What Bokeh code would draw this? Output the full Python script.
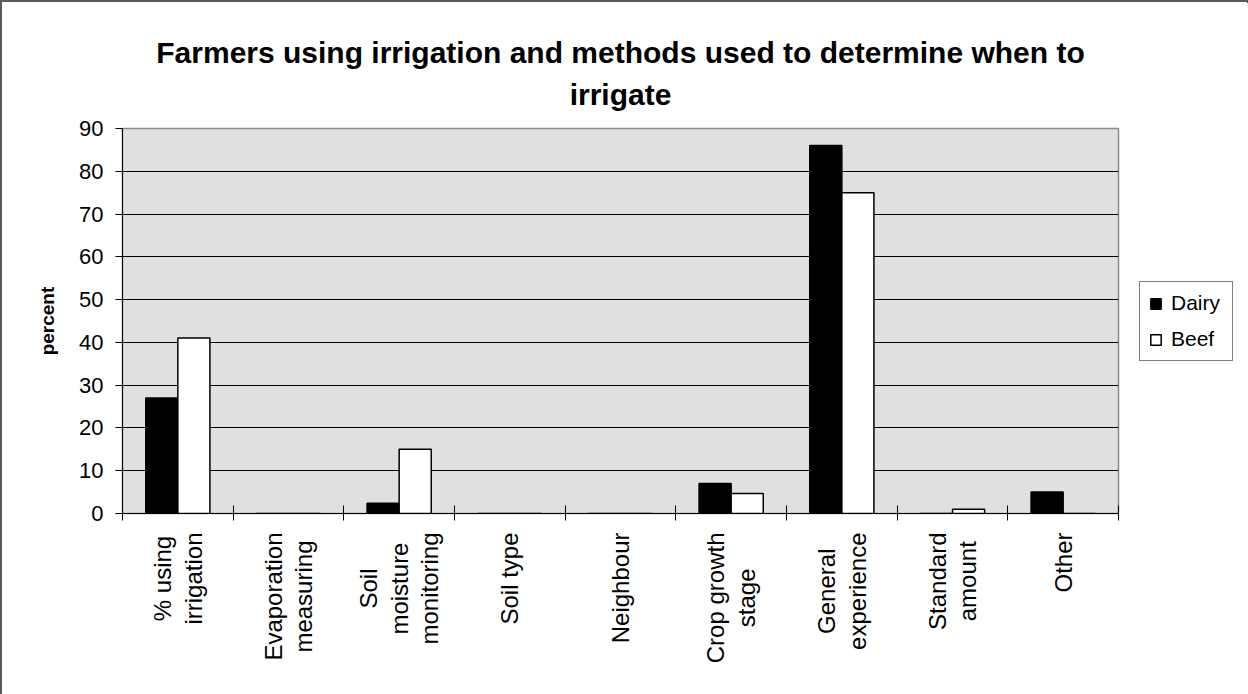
import math

from bokeh.plotting import figure
from bokeh.layouts import row, column
from bokeh.models import FixedTicker, Legend, LegendItem, ColumnDataSource, Label
from bokeh.embed import file_html
from bokeh.resources import INLINE

# Survey results: share of farmers (percent)
categories = [
    "% using\nirrigation",
    "Evaporation\nmeasuring",
    "Soil\nmoisture\nmonitoring",
    "Soil type",
    "Neighbour",
    "Crop growth\nstage",
    "General\nexperience",
    "Standard\namount",
    "Other",
]
dairy = [27, 0, 2.4, 0, 0, 7, 86, 0, 5]
beef = [41, 0, 15, 0, 0, 4.7, 75, 1, 0]
y_ticks = [0, 10, 20, 30, 40, 50, 60, 70, 80, 90]
title_lines = ["Farmers using irrigation and methods used to determine when to", "irrigate"]

FONT = "Liberation Sans"
BAR_W = 0.29
DAIRY_STYLE = dict(fill_color="black", line_color="black", line_width=1.5)
BEEF_STYLE = dict(fill_color="white", line_color="black", line_width=1.5)

centers = [i + 0.5 for i in range(len(categories))]
src = ColumnDataSource(dict(
    dairy_x=[c - BAR_W / 2 for c in centers],
    beef_x=[c + BAR_W / 2 for c in centers],
    dairy=dairy,
    beef=beef,
))


def bare(fig):
    """Strip axes chrome from a helper strip."""
    fig.outline_line_color = None
    fig.xgrid.visible = False
    fig.ygrid.visible = False
    return fig


# ---- title strip ------------------------------------------------------------
p_title = bare(figure(
    frame_width=996, frame_height=110,
    x_range=(0, 1), y_range=(0, 110),
    output_backend="svg", toolbar_location=None,
    x_axis_location=None, y_axis_location=None,
    min_border_left=120, min_border_right=2, min_border_top=0, min_border_bottom=0,
))
for text, mid in zip(title_lines, (60, 18)):
    p_title.add_layout(Label(
        x=0.5, y=mid, text=text, text_align="center", text_baseline="middle",
        text_font=FONT, text_font_style="bold", text_font_size="30px", text_color="black",
    ))

# ---- main chart -------------------------------------------------------------
p = figure(
    frame_width=996, frame_height=385,
    x_range=(0, len(categories)), y_range=(0, 90),
    output_backend="svg", toolbar_location=None,
    min_border_left=120, min_border_right=2,
    min_border_top=16, min_border_bottom=17,
)
p.background_fill_color = "#e0e0e0"
p.border_fill_color = "white"
p.outline_line_color = "#8a8a8a"
p.outline_line_width = 1.5

p.vbar(x="dairy_x", top="dairy", width=BAR_W, source=src, **DAIRY_STYLE)
p.vbar(x="beef_x", top="beef", width=BAR_W, source=src, **BEEF_STYLE)

# Horizontal gridlines (top edge is the frame outline)
p.xgrid.visible = False
p.ygrid.ticker = FixedTicker(ticks=y_ticks[1:-1])
p.ygrid.grid_line_color = "black"
p.ygrid.grid_line_width = 1

# Y axis
p.yaxis.ticker = FixedTicker(ticks=y_ticks, minor_ticks=[])
p.yaxis.axis_line_color = "black"
p.yaxis.major_tick_in = 0
p.yaxis.major_tick_out = 7
p.yaxis.major_tick_line_color = "black"
p.yaxis.major_label_standoff = 12
p.yaxis.major_label_text_font = FONT
p.yaxis.major_label_text_font_size = "22px"
p.yaxis.major_label_text_color = "black"
p.yaxis.axis_label = "percent"
p.yaxis.axis_label_text_font = FONT
p.yaxis.axis_label_text_font_style = "bold"
p.yaxis.axis_label_text_font_size = "19px"
p.yaxis.axis_label_text_color = "black"
p.yaxis.axis_label_standoff = 18

# X axis: only the ticks on category boundaries
p.xaxis.ticker = FixedTicker(ticks=[], minor_ticks=list(range(len(categories) + 1)))
p.xaxis.axis_line_color = "black"
p.xaxis.minor_tick_line_color = "black"
p.xaxis.minor_tick_in = 8
p.xaxis.minor_tick_out = 7

# ---- category names strip (shares the x range) ------------------------------
p_lab = bare(figure(
    frame_width=996, frame_height=164,
    x_range=p.x_range, y_range=(0, 1),
    output_backend="svg", toolbar_location=None,
    x_axis_location=None, y_axis_location=None,
    min_border_left=120, min_border_right=2, min_border_top=0, min_border_bottom=0,
))
for c, name in zip(centers, categories):
    p_lab.add_layout(Label(
        x=c, y=1, y_offset=-2, text=name, angle=math.pi / 2,
        anchor="center_right", text_align="center",
        text_font=FONT, text_font_size="24px", text_color="black",
        text_line_height=1.13,
    ))

# ---- legend panel -----------------------------------------------------------
# Key renderers reuse the bar data but sit outside this strip's visible ranges
p_leg = bare(figure(
    frame_width=128, frame_height=692,
    x_range=(-2, -1), y_range=(-2, -1),
    output_backend="svg", toolbar_location=None,
    x_axis_location=None, y_axis_location=None,
    min_border=0,
))
k_dairy = p_leg.vbar(x="dairy_x", top="dairy", width=BAR_W, source=src, **DAIRY_STYLE)
k_beef = p_leg.vbar(x="beef_x", top="beef", width=BAR_W, source=src, **BEEF_STYLE)
legend = Legend(
    items=[LegendItem(label="Dairy", renderers=[k_dairy]),
           LegendItem(label="Beef", renderers=[k_beef])],
    location=(19, 333),
    label_text_font=FONT, label_text_font_size="21px", label_text_color="black",
    glyph_width=13, glyph_height=13, label_standoff=9, label_width=52,
    padding=9, spacing=12, margin=0,
    border_line_color="black", border_line_width=1,
    background_fill_color="white", background_fill_alpha=1,
)
p_leg.add_layout(legend)

page = row(column(p_title, p, p_lab, spacing=0), p_leg, spacing=0)
page.styles = {"border-top": "2px solid #5a5a5a", "border-left": "2px solid #5a5a5a"}

open("out.html", "w").write(file_html(page, INLINE))
